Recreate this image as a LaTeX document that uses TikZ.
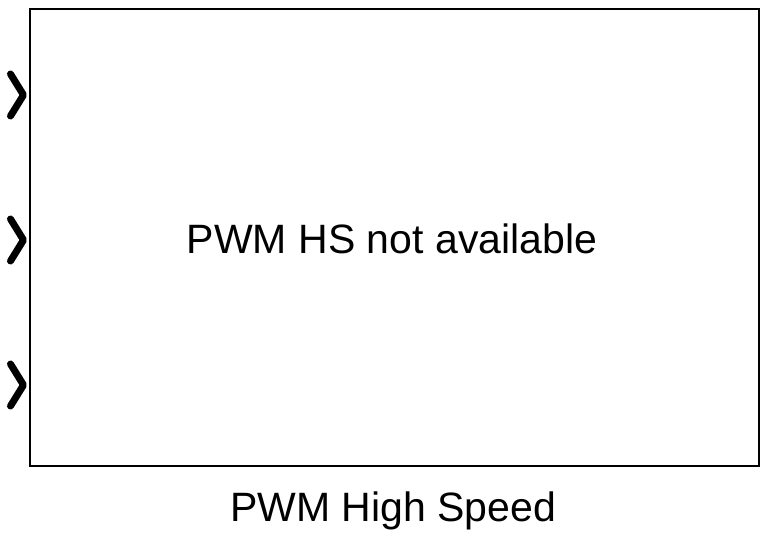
\documentclass[tikz,border=0pt]{standalone}
\usepackage{fontspec}
\setmainfont{Liberation Sans}
\usetikzlibrary{calc}
\begin{document}
\begin{tikzpicture}[x=1pt,y=-1pt,
  blockbox/.style={draw=black,line width=2pt,fill=white},
  portmark/.style={draw=black,line width=7pt,line cap=round,line join=round},
  bigtext/.style={font=\fontsize{41}{49}\selectfont,inner sep=0pt,anchor=base}]
\useasboundingbox (0,0) rectangle (767,546);
\node[blockbox,minimum width=729pt,minimum height=457pt,anchor=north west,inner sep=0pt] (blk) at (29,8) {};
\node[bigtext] (msg) at (392,253) {PWM HS not available};
\node[bigtext] (name) at (393,521) {PWM High Speed};
\foreach \i/\yy in {1/95,2/240,3/385}{
  \coordinate (p\i) at (23.5,\yy);
  \draw[portmark] ($(p\i)+(-13,-21)$) -- (p\i) -- ($(p\i)+(-13,21)$);
}
\end{tikzpicture}
\end{document}
